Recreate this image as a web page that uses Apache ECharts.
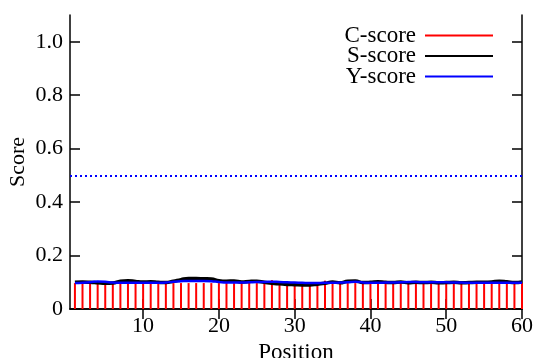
<!DOCTYPE html>
<html>
<head>
<meta charset="utf-8">
<script src="https://cdn.jsdelivr.net/npm/echarts@6/dist/echarts.min.js"></script>
<style>
  html, body { margin: 0; padding: 0; background: #fff; }
  #chart { width: 536px; height: 358px; }
</style>
</head>
<body>
<div id="chart"></div>
<script>
const positions = [
  1, 2, 3, 4, 5, 6, 7, 8, 9, 10, 11, 12, 13, 14, 15, 16, 17, 18, 19, 20,
  21, 22, 23, 24, 25, 26, 27, 28, 29, 30, 31, 32, 33, 34, 35, 36, 37, 38, 39, 40,
  41, 42, 43, 44, 45, 46, 47, 48, 49, 50, 51, 52, 53, 54, 55, 56, 57, 58, 59, 60
];
const cScore = [
  0.097, 0.097, 0.097, 0.105, 0.097, 0.097, 0.097, 0.097, 0.097, 0.097,
  0.097, 0.097, 0.097, 0.097, 0.097, 0.097, 0.097, 0.097, 0.097, 0.097,
  0.097, 0.097, 0.097, 0.097, 0.097, 0.097, 0.108, 0.097, 0.097, 0.097,
  0.097, 0.097, 0.097, 0.106, 0.097, 0.097, 0.097, 0.097, 0.097, 0.097,
  0.097, 0.104, 0.097, 0.104, 0.097, 0.104, 0.097, 0.098, 0.097, 0.105,
  0.097, 0.098, 0.097, 0.097, 0.104, 0.097, 0.097, 0.097, 0.104, 0.097
];
const sScore = [
  0.100, 0.101, 0.100, 0.098, 0.096, 0.097, 0.104, 0.106, 0.103, 0.101,
  0.102, 0.100, 0.099, 0.104, 0.110, 0.114, 0.114, 0.113, 0.112, 0.106,
  0.104, 0.105, 0.101, 0.103, 0.104, 0.100, 0.096, 0.094, 0.092, 0.091,
  0.090, 0.090, 0.093, 0.096, 0.101, 0.098, 0.104, 0.105, 0.099, 0.100,
  0.102, 0.100, 0.099, 0.101, 0.098, 0.100, 0.099, 0.100, 0.098, 0.099,
  0.100, 0.098, 0.099, 0.100, 0.100, 0.101, 0.104, 0.102, 0.099, 0.101
];
const yScore = [
  0.097, 0.098, 0.100, 0.103, 0.102, 0.099, 0.098, 0.098, 0.098, 0.098,
  0.098, 0.098, 0.099, 0.102, 0.104, 0.105, 0.105, 0.105, 0.104, 0.101,
  0.099, 0.099, 0.099, 0.100, 0.101, 0.101, 0.102, 0.101, 0.100, 0.099,
  0.098, 0.097, 0.097, 0.098, 0.098, 0.099, 0.100, 0.102, 0.099, 0.098,
  0.098, 0.099, 0.099, 0.100, 0.101, 0.101, 0.100, 0.100, 0.100, 0.100,
  0.099, 0.099, 0.098, 0.098, 0.098, 0.098, 0.098, 0.098, 0.098, 0.098
];
const threshold = 0.5;
const xTicks = [10, 20, 30, 40, 50, 60];
const yTicks = [0, 0.2, 0.4, 0.6, 0.8, 1.0];

const font = '"Liberation Serif", "DejaVu Serif", serif';
const pair = (vals) => positions.map((p, i) => [p, vals[i]]);

const chart = echarts.init(document.getElementById('chart'));

const axisLine = { show: true, lineStyle: { color: '#000', width: 1.5 } };
const tickStyle = { color: '#000', width: 1.5 };

const option = {
  animation: false,
  textStyle: { fontFamily: font },
  grid: { left: 70, right: 14, top: 15, bottom: 49, outerBoundsMode: 'none', containLabel: false },
  legend: {
    orient: 'vertical',
    right: 38,
    top: 19,
    align: 'right',
    itemWidth: 68,
    itemHeight: 2,
    itemGap: -2.5,
    icon: 'rect',
    textStyle: { fontFamily: font, fontSize: 23, color: '#000', lineHeight: 20, padding: [0, 4, 0, 0] },
    data: ['C-score', 'S-score', 'Y-score']
  },
  xAxis: [
    {
      type: 'value', min: 0.35, max: 60, position: 'bottom',
      name: 'Position', nameLocation: 'middle', nameGap: 27,
      nameTextStyle: { fontFamily: font, fontSize: 23, color: '#000' },
      axisLine: axisLine,
      splitLine: { show: false },
      axisTick: { inside: true, length: 10, customValues: xTicks, lineStyle: tickStyle },
      axisLabel: { customValues: xTicks, fontFamily: font, fontSize: 22, color: '#000', margin: 6 }
    },
    {
      type: 'value', min: 0.35, max: 60, position: 'top',
      axisLine: axisLine,
      splitLine: { show: false },
      axisTick: { inside: true, length: 10, customValues: xTicks, lineStyle: tickStyle },
      axisLabel: { show: false }
    }
  ],
  yAxis: [
    {
      type: 'value', min: 0, max: 1.1, position: 'left',
      name: 'Score', nameLocation: 'middle', nameGap: 41, nameMoveOverlap: false,
      nameTextStyle: { fontFamily: font, fontSize: 22, color: '#000' },
      axisLine: axisLine,
      splitLine: { show: false },
      axisTick: { inside: true, length: 10, customValues: yTicks, lineStyle: tickStyle },
      axisLabel: {
        customValues: yTicks, fontFamily: font, fontSize: 22, color: '#000', margin: 7,
        formatter: (v) => (v === 0 ? '0' : v.toFixed(1))
      }
    },
    {
      type: 'value', min: 0, max: 1.1, position: 'right',
      axisLine: axisLine,
      splitLine: { show: false },
      axisTick: { inside: true, length: 10, customValues: yTicks, lineStyle: tickStyle },
      axisLabel: { show: false }
    }
  ],
  series: [
    {
      name: 'C-score',
      type: 'bar',
      data: pair(cScore),
      barWidth: 2,
      itemStyle: { color: '#ff0000' },
      z: 1
    },
    {
      name: 'S-score',
      type: 'line',
      data: pair(sScore),
      smooth: true,
      symbol: 'none',
      lineStyle: { color: '#000', width: 3.5 },
      itemStyle: { color: '#000' },
      z: 2
    },
    {
      name: 'Y-score',
      type: 'line',
      data: pair(yScore),
      smooth: true,
      symbol: 'none',
      lineStyle: { color: '#0000ff', width: 2.5 },
      itemStyle: { color: '#0000ff' },
      z: 3,
      markLine: {
        silent: true,
        symbol: 'none',
        label: { show: false },
        lineStyle: { color: '#0000ff', type: [2, 3], width: 2 },
        data: [{ yAxis: threshold }]
      }
    }
  ]
};

chart.setOption(option);
</script>
</body>
</html>
